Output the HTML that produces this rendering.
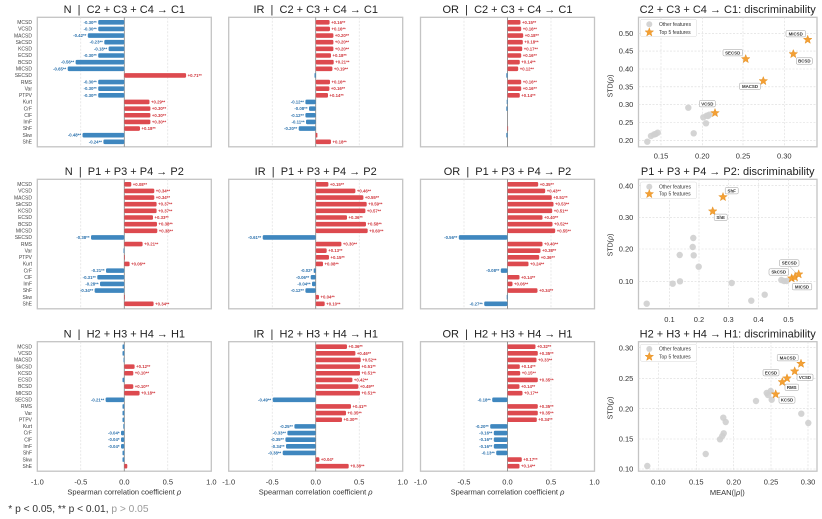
<!DOCTYPE html>
<html><head><meta charset="utf-8">
<style>
html,body{margin:0;padding:0;background:#fff;}
svg{display:block;font-family:"Liberation Sans",sans-serif;}
.r{fill:#dd4a4f}.b{fill:#3f87bf}
.tr{fill:#d0363c;font-size:4.3px;font-weight:bold}
.tb{fill:#2c72ad;font-size:4.3px;font-weight:bold;text-anchor:end}
.fr{fill:#fff;stroke:#c4c4c4;stroke-width:1.3}
.gd{stroke:#dadada;stroke-width:.6;stroke-dasharray:2 1.5}
.z{stroke:#8a8a8a;stroke-width:.9}
.fn{font-size:5px;fill:#444;text-anchor:end}
.ti{font-size:11px;fill:#222;text-anchor:middle}
.tk{font-size:7.5px;fill:#333;text-anchor:middle}
.tky{font-size:7.5px;fill:#333;text-anchor:end}
.gp{fill:#cfcfcf;opacity:.9}
.lb{fill:#fff;stroke:#9a9a9a;stroke-width:.5}
.lt{font-size:4.4px;font-weight:bold;fill:#333;text-anchor:middle}
.lg{font-size:5px;fill:#333}
.st{fill:#f4a034;stroke:#e08a1a;stroke-width:.4}
</style></head>
<body>
<svg width="822" height="519" viewBox="0 0 822 519" xmlns="http://www.w3.org/2000/svg">
<defs>
<path id="st" d="M0,-4.5 L1.117,-1.537 L4.28,-1.39 L1.807,0.587 L2.645,3.64 L0,1.9 L-2.645,3.64 L-1.807,0.587 L-4.28,-1.39 L-1.117,-1.537 Z"/>
</defs>
<rect width="822" height="519" fill="#fff"/>

<!-- Titles -->
<text class="ti" x="124.3" y="13">N&#160;&#160;|&#160;&#160;C2 + C3 + C4 → C1</text>
<text class="ti" x="315.7" y="13">IR&#160;&#160;|&#160;&#160;C2 + C3 + C4 → C1</text>
<text class="ti" x="507.5" y="13">OR&#160;&#160;|&#160;&#160;C2 + C3 + C4 → C1</text>
<text class="ti" x="727.7" y="13">C2 + C3 + C4 → C1: discriminability</text>
<text class="ti" x="124.3" y="175">N&#160;&#160;|&#160;&#160;P1 + P3 + P4 → P2</text>
<text class="ti" x="315.7" y="175">IR&#160;&#160;|&#160;&#160;P1 + P3 + P4 → P2</text>
<text class="ti" x="507.5" y="175">OR&#160;&#160;|&#160;&#160;P1 + P3 + P4 → P2</text>
<text class="ti" x="727.7" y="175">P1 + P3 + P4 → P2: discriminability</text>
<text class="ti" x="124.3" y="337.5">N&#160;&#160;|&#160;&#160;H2 + H3 + H4 → H1</text>
<text class="ti" x="315.7" y="337.5">IR&#160;&#160;|&#160;&#160;H2 + H3 + H4 → H1</text>
<text class="ti" x="507.5" y="337.5">OR&#160;&#160;|&#160;&#160;H2 + H3 + H4 → H1</text>
<text class="ti" x="727.7" y="337.5">H2 + H3 + H4 → H1: discriminability</text>

<!-- Feature names, 3 rows -->
<g transform="translate(32,22.3)">
<text class="fn" y="1.7">MCSD</text><text class="fn" y="8.34">VCSD</text><text class="fn" y="14.98">MACSD</text><text class="fn" y="21.62">SkCSD</text><text class="fn" y="28.26">KCSD</text><text class="fn" y="34.9">ECSD</text><text class="fn" y="41.54">BCSD</text><text class="fn" y="48.18">MICSD</text><text class="fn" y="54.82">SECSD</text><text class="fn" y="61.46">RMS</text><text class="fn" y="68.1">Var</text><text class="fn" y="74.74">PTPV</text><text class="fn" y="81.38">Kurt</text><text class="fn" y="88.02">CrF</text><text class="fn" y="94.66">ClF</text><text class="fn" y="101.3">ImF</text><text class="fn" y="107.94">ShF</text><text class="fn" y="114.58">Skw</text><text class="fn" y="121.22">ShE</text>
</g>
<g transform="translate(32,184.3)">
<text class="fn" y="1.7">MCSD</text><text class="fn" y="8.34">VCSD</text><text class="fn" y="14.98">MACSD</text><text class="fn" y="21.62">SkCSD</text><text class="fn" y="28.26">KCSD</text><text class="fn" y="34.9">ECSD</text><text class="fn" y="41.54">BCSD</text><text class="fn" y="48.18">MICSD</text><text class="fn" y="54.82">SECSD</text><text class="fn" y="61.46">RMS</text><text class="fn" y="68.1">Var</text><text class="fn" y="74.74">PTPV</text><text class="fn" y="81.38">Kurt</text><text class="fn" y="88.02">CrF</text><text class="fn" y="94.66">ClF</text><text class="fn" y="101.3">ImF</text><text class="fn" y="107.94">ShF</text><text class="fn" y="114.58">Skw</text><text class="fn" y="121.22">ShE</text>
</g>
<g transform="translate(32,346.7)">
<text class="fn" y="1.7">MCSD</text><text class="fn" y="8.34">VCSD</text><text class="fn" y="14.98">MACSD</text><text class="fn" y="21.62">SkCSD</text><text class="fn" y="28.26">KCSD</text><text class="fn" y="34.9">ECSD</text><text class="fn" y="41.54">BCSD</text><text class="fn" y="48.18">MICSD</text><text class="fn" y="54.82">SECSD</text><text class="fn" y="61.46">RMS</text><text class="fn" y="68.1">Var</text><text class="fn" y="74.74">PTPV</text><text class="fn" y="81.38">Kurt</text><text class="fn" y="88.02">CrF</text><text class="fn" y="94.66">ClF</text><text class="fn" y="101.3">ImF</text><text class="fn" y="107.94">ShF</text><text class="fn" y="114.58">Skw</text><text class="fn" y="121.22">ShE</text>
</g>

<!-- R1C1 -->
<g transform="translate(124.3,22.3)">
<rect class="fr" x="-87" y="-5" width="174" height="129.5"/>
<line class="gd" x1="-43.5" y1="-5" x2="-43.5" y2="124.5"/><line class="gd" x1="43.5" y1="-5" x2="43.5" y2="124.5"/>
<line class="z" x1="0" y1="-5" x2="0" y2="124.5"/>
<rect class="b" x="-26.1" y="-2.3" width="26.1" height="4.6" rx="1.2"/>
<rect class="b" x="-26.1" y="4.34" width="26.1" height="4.6" rx="1.2"/>
<rect class="b" x="-36.5" y="10.98" width="36.5" height="4.6" rx="1.2"/>
<rect class="b" x="-20" y="17.62" width="20" height="4.6" rx="1.2"/>
<rect class="b" x="-15.7" y="24.26" width="15.7" height="4.6" rx="1.2"/>
<rect class="b" x="-26.1" y="30.9" width="26.1" height="4.6" rx="1.2"/>
<rect class="b" x="-48.7" y="37.54" width="48.7" height="4.6" rx="1.2"/>
<rect class="b" x="-56.6" y="44.18" width="56.6" height="4.6" rx="1.2"/>
<rect class="r" x="0" y="50.82" width="61.8" height="4.6" rx="1.2"/>
<rect class="b" x="-26.1" y="57.46" width="26.1" height="4.6" rx="1.2"/>
<rect class="b" x="-26.1" y="64.1" width="26.1" height="4.6" rx="1.2"/>
<rect class="b" x="-26.1" y="70.74" width="26.1" height="4.6" rx="1.2"/>
<rect class="r" x="0" y="77.38" width="25.2" height="4.6" rx="1.2"/>
<rect class="r" x="0" y="84.02" width="26.1" height="4.6" rx="1.2"/>
<rect class="r" x="0" y="90.66" width="26.1" height="4.6" rx="1.2"/>
<rect class="r" x="0" y="97.3" width="26.1" height="4.6" rx="1.2"/>
<rect class="r" x="0" y="103.94" width="15.7" height="4.6" rx="1.2"/>
<rect class="b" x="-41.8" y="110.58" width="41.8" height="4.6" rx="1.2"/>
<rect class="b" x="-20.9" y="117.22" width="20.9" height="4.6" rx="1.2"/>
<text class="tb" x="-27.6" y="1.5">-0.30**</text>
<text class="tb" x="-27.6" y="8.14">-0.30**</text>
<text class="tb" x="-38" y="14.78">-0.42**</text>
<text class="tb" x="-21.5" y="21.42">-0.23**</text>
<text class="tb" x="-17.2" y="28.06">-0.18**</text>
<text class="tb" x="-27.6" y="34.7">-0.30**</text>
<text class="tb" x="-50.2" y="41.34">-0.56**</text>
<text class="tb" x="-58.1" y="47.98">-0.65**</text>
<text class="tr" x="63.3" y="54.62">+0.71**</text>
<text class="tb" x="-27.6" y="61.26">-0.30**</text>
<text class="tb" x="-27.6" y="67.9">-0.30**</text>
<text class="tb" x="-27.6" y="74.54">-0.30**</text>
<text class="tr" x="26.7" y="81.18">+0.29**</text>
<text class="tr" x="27.6" y="87.82">+0.30**</text>
<text class="tr" x="27.6" y="94.46">+0.30**</text>
<text class="tr" x="27.6" y="101.1">+0.30**</text>
<text class="tr" x="17.2" y="107.74">+0.18**</text>
<text class="tb" x="-43.3" y="114.38">-0.48**</text>
<text class="tb" x="-22.4" y="121.02">-0.24**</text>
</g>

<!-- R1C2 -->
<g transform="translate(315.7,22.3)">
<rect class="fr" x="-87" y="-5" width="174" height="129.5"/>
<line class="gd" x1="-43.5" y1="-5" x2="-43.5" y2="124.5"/><line class="gd" x1="43.5" y1="-5" x2="43.5" y2="124.5"/>
<line class="z" x1="0" y1="-5" x2="0" y2="124.5"/>
<rect class="r" x="0" y="-2.3" width="13.9" height="4.6" rx="1.2"/>
<rect class="r" x="0" y="4.34" width="14.3" height="4.6" rx="1.2"/>
<rect class="r" x="0" y="10.98" width="17.7" height="4.6" rx="1.2"/>
<rect class="r" x="0" y="17.62" width="17.7" height="4.6" rx="1.2"/>
<rect class="r" x="0" y="24.26" width="17.7" height="4.6" rx="1.2"/>
<rect class="r" x="0" y="30.9" width="15.3" height="4.6" rx="1.2"/>
<rect class="r" x="0" y="37.54" width="18" height="4.6" rx="1.2"/>
<rect class="r" x="0" y="44.18" width="16.7" height="4.6" rx="1.2"/>
<rect class="b" x="-1.2" y="50.82" width="1.2" height="4.6" rx=".5"/>
<rect class="r" x="0" y="57.46" width="14.3" height="4.6" rx="1.2"/>
<rect class="r" x="0" y="64.1" width="13.7" height="4.6" rx="1.2"/>
<rect class="r" x="0" y="70.74" width="12.3" height="4.6" rx="1.2"/>
<rect class="b" x="-10.3" y="77.38" width="10.3" height="4.6" rx="1.2"/>
<rect class="b" x="-6.7" y="84.02" width="6.7" height="4.6" rx="1.2"/>
<rect class="b" x="-10.3" y="90.66" width="10.3" height="4.6" rx="1.2"/>
<rect class="b" x="-9.7" y="97.3" width="9.7" height="4.6" rx="1.2"/>
<rect class="b" x="-17" y="103.94" width="17" height="4.6" rx="1.2"/>
<rect class="r" x="0" y="110.58" width="1.7" height="4.6" rx=".6"/>
<rect class="r" x="0" y="117.22" width="15.3" height="4.6" rx="1.2"/>
<text class="tr" x="15.4" y="1.5">+0.16**</text>
<text class="tr" x="15.8" y="8.14">+0.16**</text>
<text class="tr" x="19.2" y="14.78">+0.20**</text>
<text class="tr" x="19.2" y="21.42">+0.20**</text>
<text class="tr" x="19.2" y="28.06">+0.20**</text>
<text class="tr" x="16.8" y="34.7">+0.18**</text>
<text class="tr" x="19.5" y="41.34">+0.21**</text>
<text class="tr" x="18.2" y="47.98">+0.19**</text>
<text class="tr" x="15.8" y="61.26">+0.16**</text>
<text class="tr" x="15.2" y="67.9">+0.16**</text>
<text class="tr" x="13.8" y="74.54">+0.14**</text>
<text class="tb" x="-11.8" y="81.18">-0.12**</text>
<text class="tb" x="-8.2" y="87.82">-0.08**</text>
<text class="tb" x="-11.8" y="94.46">-0.12**</text>
<text class="tb" x="-11.2" y="101.1">-0.11**</text>
<text class="tb" x="-18.5" y="107.74">-0.20**</text>
<text class="tr" x="16.8" y="121.02">+0.18**</text>
</g>

<!-- R1C3 -->
<g transform="translate(507.5,22.3)">
<rect class="fr" x="-87" y="-5" width="174" height="129.5"/>
<line class="gd" x1="-43.5" y1="-5" x2="-43.5" y2="124.5"/><line class="gd" x1="43.5" y1="-5" x2="43.5" y2="124.5"/>
<line class="z" x1="0" y1="-5" x2="0" y2="124.5"/>
<rect class="r" x="0" y="-2.3" width="13" height="4.6" rx="1.2"/>
<rect class="r" x="0" y="4.34" width="13.7" height="4.6" rx="1.2"/>
<rect class="r" x="0" y="10.98" width="15.7" height="4.6" rx="1.2"/>
<rect class="r" x="0" y="17.62" width="15.3" height="4.6" rx="1.2"/>
<rect class="r" x="0" y="24.26" width="14.7" height="4.6" rx="1.2"/>
<rect class="r" x="0" y="30.9" width="13.7" height="4.6" rx="1.2"/>
<rect class="r" x="0" y="37.54" width="12.3" height="4.6" rx="1.2"/>
<rect class="r" x="0" y="44.18" width="10.7" height="4.6" rx="1.2"/>
<rect class="b" x="-1.2" y="50.82" width="1.2" height="4.6" rx=".5"/>
<rect class="r" x="0" y="57.46" width="13.7" height="4.6" rx="1.2"/>
<rect class="r" x="0" y="64.1" width="13.7" height="4.6" rx="1.2"/>
<rect class="r" x="0" y="70.74" width="12.3" height="4.6" rx="1.2"/>
<rect class="b" x="-0.8" y="77.38" width="0.8" height="4.6" rx=".4"/>
<rect class="b" x="-1.2" y="84.02" width="1.2" height="4.6" rx=".5"/>
<rect class="r" x="0" y="103.94" width="0.6" height="4.6"/>
<rect class="b" x="-1.2" y="110.58" width="1.2" height="4.6" rx=".5"/>
<text class="tr" x="14.5" y="1.5">+0.15**</text>
<text class="tr" x="15.2" y="8.14">+0.16**</text>
<text class="tr" x="17.2" y="14.78">+0.18**</text>
<text class="tr" x="16.8" y="21.42">+0.18**</text>
<text class="tr" x="16.2" y="28.06">+0.17**</text>
<text class="tr" x="15.2" y="34.7">+0.16**</text>
<text class="tr" x="13.8" y="41.34">+0.14**</text>
<text class="tr" x="12.2" y="47.98">+0.12**</text>
<text class="tr" x="15.2" y="61.26">+0.16**</text>
<text class="tr" x="15.2" y="67.9">+0.16**</text>
<text class="tr" x="13.8" y="74.54">+0.14**</text>
</g>

<!-- R2C1 -->
<g transform="translate(124.3,184.3)">
<rect class="fr" x="-87" y="-5" width="174" height="129.5"/>
<line class="gd" x1="-43.5" y1="-5" x2="-43.5" y2="124.5"/><line class="gd" x1="43.5" y1="-5" x2="43.5" y2="124.5"/>
<line class="z" x1="0" y1="-5" x2="0" y2="124.5"/>
<rect class="r" x="0" y="-2.3" width="7" height="4.6" rx="1.2"/>
<rect class="r" x="0" y="4.34" width="30" height="4.6" rx="1.2"/>
<rect class="r" x="0" y="10.98" width="30" height="4.6" rx="1.2"/>
<rect class="r" x="0" y="17.62" width="32.3" height="4.6" rx="1.2"/>
<rect class="r" x="0" y="24.26" width="32.3" height="4.6" rx="1.2"/>
<rect class="r" x="0" y="30.9" width="28.7" height="4.6" rx="1.2"/>
<rect class="r" x="0" y="37.54" width="32.7" height="4.6" rx="1.2"/>
<rect class="r" x="0" y="44.18" width="33" height="4.6" rx="1.2"/>
<rect class="b" x="-33.3" y="50.82" width="33.3" height="4.6" rx="1.2"/>
<rect class="r" x="0" y="57.46" width="18.3" height="4.6" rx="1.2"/>
<rect class="b" x="-0.8" y="64.1" width="0.8" height="4.6"/>
<rect class="r" x="0" y="70.74" width="0.6" height="4.6"/>
<rect class="r" x="0" y="77.38" width="5.3" height="4.6" rx="1.2"/>
<rect class="b" x="-18.3" y="84.02" width="18.3" height="4.6" rx="1.2"/>
<rect class="b" x="-27" y="90.66" width="27" height="4.6" rx="1.2"/>
<rect class="b" x="-24.3" y="97.3" width="24.3" height="4.6" rx="1.2"/>
<rect class="b" x="-29.7" y="103.94" width="29.7" height="4.6" rx="1.2"/>
<rect class="r" x="0" y="110.58" width="0.6" height="4.6"/>
<rect class="r" x="0" y="117.22" width="29.3" height="4.6" rx="1.2"/>
<text class="tr" x="8.5" y="1.5">+0.08**</text>
<text class="tr" x="31.5" y="8.14">+0.34**</text>
<text class="tr" x="31.5" y="14.78">+0.34**</text>
<text class="tr" x="33.8" y="21.42">+0.37**</text>
<text class="tr" x="33.8" y="28.06">+0.37**</text>
<text class="tr" x="30.2" y="34.7">+0.33**</text>
<text class="tr" x="34.2" y="41.34">+0.38**</text>
<text class="tr" x="34.5" y="47.98">+0.38**</text>
<text class="tb" x="-34.8" y="54.62">-0.38**</text>
<text class="tr" x="19.8" y="61.26">+0.21**</text>
<text class="tr" x="6.8" y="81.18">+0.06**</text>
<text class="tb" x="-19.8" y="87.82">-0.21**</text>
<text class="tb" x="-28.5" y="94.46">-0.31**</text>
<text class="tb" x="-25.8" y="101.1">-0.28**</text>
<text class="tb" x="-31.2" y="107.74">-0.34**</text>
<text class="tr" x="30.8" y="121.02">+0.34**</text>
</g>

<!-- R2C2 -->
<g transform="translate(315.7,184.3)">
<rect class="fr" x="-87" y="-5" width="174" height="129.5"/>
<line class="gd" x1="-43.5" y1="-5" x2="-43.5" y2="124.5"/><line class="gd" x1="43.5" y1="-5" x2="43.5" y2="124.5"/>
<line class="z" x1="0" y1="-5" x2="0" y2="124.5"/>
<rect class="r" x="0" y="-2.3" width="12.7" height="4.6" rx="1.2"/>
<rect class="r" x="0" y="4.34" width="39.7" height="4.6" rx="1.2"/>
<rect class="r" x="0" y="10.98" width="47.7" height="4.6" rx="1.2"/>
<rect class="r" x="0" y="17.62" width="51" height="4.6" rx="1.2"/>
<rect class="r" x="0" y="24.26" width="49.7" height="4.6" rx="1.2"/>
<rect class="r" x="0" y="30.9" width="31.3" height="4.6" rx="1.2"/>
<rect class="r" x="0" y="37.54" width="50.3" height="4.6" rx="1.2"/>
<rect class="r" x="0" y="44.18" width="52" height="4.6" rx="1.2"/>
<rect class="b" x="-53" y="50.82" width="53" height="4.6" rx="1.2"/>
<rect class="r" x="0" y="57.46" width="25.7" height="4.6" rx="1.2"/>
<rect class="r" x="0" y="64.1" width="11" height="4.6" rx="1.2"/>
<rect class="r" x="0" y="70.74" width="13.3" height="4.6" rx="1.2"/>
<rect class="r" x="0" y="77.38" width="7.3" height="4.6" rx="1.2"/>
<rect class="b" x="-2" y="84.02" width="2" height="4.6" rx=".8"/>
<rect class="b" x="-5" y="90.66" width="5" height="4.6" rx="1.2"/>
<rect class="b" x="-3.7" y="97.3" width="3.7" height="4.6" rx="1.2"/>
<rect class="b" x="-10.3" y="103.94" width="10.3" height="4.6" rx="1.2"/>
<rect class="r" x="0" y="110.58" width="3.3" height="4.6" rx="1.2"/>
<rect class="r" x="0" y="117.22" width="9" height="4.6" rx="1.2"/>
<text class="tr" x="14.2" y="1.5">+0.15**</text>
<text class="tr" x="41.2" y="8.14">+0.46**</text>
<text class="tr" x="49.2" y="14.78">+0.55**</text>
<text class="tr" x="52.5" y="21.42">+0.59**</text>
<text class="tr" x="51.2" y="28.06">+0.57**</text>
<text class="tr" x="32.8" y="34.7">+0.36**</text>
<text class="tr" x="51.8" y="41.34">+0.58**</text>
<text class="tr" x="53.5" y="47.98">+0.60**</text>
<text class="tb" x="-54.5" y="54.62">-0.61**</text>
<text class="tr" x="27.2" y="61.26">+0.30**</text>
<text class="tr" x="12.5" y="67.9">+0.13**</text>
<text class="tr" x="14.8" y="74.54">+0.15**</text>
<text class="tr" x="8.8" y="81.18">+0.08**</text>
<text class="tb" x="-3.5" y="87.82">-0.02*</text>
<text class="tb" x="-6.5" y="94.46">-0.06**</text>
<text class="tb" x="-5.2" y="101.1">-0.04**</text>
<text class="tb" x="-11.8" y="107.74">-0.12**</text>
<text class="tr" x="4.8" y="114.38">+0.04**</text>
<text class="tr" x="10.5" y="121.02">+0.10**</text>
</g>

<!-- R2C3 -->
<g transform="translate(507.5,184.3)">
<rect class="fr" x="-87" y="-5" width="174" height="129.5"/>
<line class="gd" x1="-43.5" y1="-5" x2="-43.5" y2="124.5"/><line class="gd" x1="43.5" y1="-5" x2="43.5" y2="124.5"/>
<line class="z" x1="0" y1="-5" x2="0" y2="124.5"/>
<rect class="r" x="0" y="-2.3" width="30.7" height="4.6" rx="1.2"/>
<rect class="r" x="0" y="4.34" width="37.7" height="4.6" rx="1.2"/>
<rect class="r" x="0" y="10.98" width="44.3" height="4.6" rx="1.2"/>
<rect class="r" x="0" y="17.62" width="46" height="4.6" rx="1.2"/>
<rect class="r" x="0" y="24.26" width="44.7" height="4.6" rx="1.2"/>
<rect class="r" x="0" y="30.9" width="35" height="4.6" rx="1.2"/>
<rect class="r" x="0" y="37.54" width="45" height="4.6" rx="1.2"/>
<rect class="r" x="0" y="44.18" width="47.7" height="4.6" rx="1.2"/>
<rect class="b" x="-48.7" y="50.82" width="48.7" height="4.6" rx="1.2"/>
<rect class="r" x="0" y="57.46" width="35" height="4.6" rx="1.2"/>
<rect class="r" x="0" y="64.1" width="33" height="4.6" rx="1.2"/>
<rect class="r" x="0" y="70.74" width="31.7" height="4.6" rx="1.2"/>
<rect class="r" x="0" y="77.38" width="21" height="4.6" rx="1.2"/>
<rect class="b" x="-6.7" y="84.02" width="6.7" height="4.6" rx="1.2"/>
<rect class="r" x="0" y="90.66" width="12" height="4.6" rx="1.2"/>
<rect class="r" x="0" y="97.3" width="5" height="4.6" rx="1.2"/>
<rect class="r" x="0" y="103.94" width="30" height="4.6" rx="1.2"/>
<rect class="b" x="-0.8" y="110.58" width="0.8" height="4.6"/>
<rect class="b" x="-23.3" y="117.22" width="23.3" height="4.6" rx="1.2"/>
<text class="tr" x="32.2" y="1.5">+0.35**</text>
<text class="tr" x="39.2" y="8.14">+0.43**</text>
<text class="tr" x="45.8" y="14.78">+0.51**</text>
<text class="tr" x="47.5" y="21.42">+0.53**</text>
<text class="tr" x="46.2" y="28.06">+0.51**</text>
<text class="tr" x="36.5" y="34.7">+0.40**</text>
<text class="tr" x="46.5" y="41.34">+0.52**</text>
<text class="tr" x="49.2" y="47.98">+0.55**</text>
<text class="tb" x="-50.2" y="54.62">-0.56**</text>
<text class="tr" x="36.5" y="61.26">+0.40**</text>
<text class="tr" x="34.5" y="67.9">+0.38**</text>
<text class="tr" x="33.2" y="74.54">+0.36**</text>
<text class="tr" x="22.5" y="81.18">+0.24**</text>
<text class="tb" x="-8.2" y="87.82">-0.08**</text>
<text class="tr" x="13.5" y="94.46">+0.14**</text>
<text class="tr" x="6.5" y="101.1">+0.06**</text>
<text class="tr" x="31.5" y="107.74">+0.34**</text>
<text class="tb" x="-24.8" y="121.02">-0.27**</text>
</g>

<!-- R3C1 -->
<g transform="translate(124.3,346.7)">
<rect class="fr" x="-87" y="-5" width="174" height="129.5"/>
<line class="gd" x1="-43.5" y1="-5" x2="-43.5" y2="124.5"/><line class="gd" x1="43.5" y1="-5" x2="43.5" y2="124.5"/>
<line class="z" x1="0" y1="-5" x2="0" y2="124.5"/>
<rect class="b" x="-1.8" y="-2.3" width="1.8" height="4.6" rx=".8"/>
<rect class="b" x="-1.8" y="4.34" width="1.8" height="4.6" rx=".8"/>
<rect class="b" x="-0.8" y="10.98" width="0.8" height="4.6"/>
<rect class="r" x="0" y="17.62" width="10.3" height="4.6" rx="1.2"/>
<rect class="r" x="0" y="24.26" width="9" height="4.6" rx="1.2"/>
<rect class="b" x="-1.8" y="30.9" width="1.8" height="4.6" rx=".8"/>
<rect class="r" x="0" y="37.54" width="9" height="4.6" rx="1.2"/>
<rect class="r" x="0" y="44.18" width="15.3" height="4.6" rx="1.2"/>
<rect class="b" x="-18.7" y="50.82" width="18.7" height="4.6" rx="1.2"/>
<rect class="b" x="-1.8" y="57.46" width="1.8" height="4.6" rx=".8"/>
<rect class="b" x="-1.8" y="64.1" width="1.8" height="4.6" rx=".8"/>
<rect class="b" x="-1.8" y="70.74" width="1.8" height="4.6" rx=".8"/>
<rect class="b" x="-1" y="77.38" width="1" height="4.6"/>
<rect class="b" x="-3.3" y="84.02" width="3.3" height="4.6" rx="1.2"/>
<rect class="b" x="-3.3" y="90.66" width="3.3" height="4.6" rx="1.2"/>
<rect class="b" x="-3.3" y="97.3" width="3.3" height="4.6" rx="1.2"/>
<rect class="b" x="-1.8" y="103.94" width="1.8" height="4.6" rx=".8"/>
<rect class="b" x="-1.8" y="110.58" width="1.8" height="4.6" rx=".8"/>
<rect class="r" x="0" y="117.22" width="3" height="4.6" rx="1.2"/>
<text class="tr" x="11.8" y="21.42">+0.12**</text>
<text class="tr" x="10.5" y="28.06">+0.10**</text>
<text class="tr" x="10.5" y="41.34">+0.10**</text>
<text class="tr" x="16.8" y="47.98">+0.18**</text>
<text class="tb" x="-20.2" y="54.62">-0.21**</text>
<text class="tb" x="-4.8" y="87.82">-0.04*</text>
<text class="tb" x="-4.8" y="94.46">-0.04*</text>
<text class="tb" x="-4.8" y="101.1">-0.04*</text>
</g>

<!-- R3C2 -->
<g transform="translate(315.7,346.7)">
<rect class="fr" x="-87" y="-5" width="174" height="129.5"/>
<line class="gd" x1="-43.5" y1="-5" x2="-43.5" y2="124.5"/><line class="gd" x1="43.5" y1="-5" x2="43.5" y2="124.5"/>
<line class="z" x1="0" y1="-5" x2="0" y2="124.5"/>
<rect class="r" x="0" y="-2.3" width="31.3" height="4.6" rx="1.2"/>
<rect class="r" x="0" y="4.34" width="39.7" height="4.6" rx="1.2"/>
<rect class="r" x="0" y="10.98" width="45" height="4.6" rx="1.2"/>
<rect class="r" x="0" y="17.62" width="44.3" height="4.6" rx="1.2"/>
<rect class="r" x="0" y="24.26" width="44.3" height="4.6" rx="1.2"/>
<rect class="r" x="0" y="30.9" width="36.7" height="4.6" rx="1.2"/>
<rect class="r" x="0" y="37.54" width="42.7" height="4.6" rx="1.2"/>
<rect class="r" x="0" y="44.18" width="44.3" height="4.6" rx="1.2"/>
<rect class="b" x="-43" y="50.82" width="43" height="4.6" rx="1.2"/>
<rect class="r" x="0" y="57.46" width="35.3" height="4.6" rx="1.2"/>
<rect class="r" x="0" y="64.1" width="30.3" height="4.6" rx="1.2"/>
<rect class="r" x="0" y="70.74" width="26.3" height="4.6" rx="1.2"/>
<rect class="b" x="-21.3" y="77.38" width="21.3" height="4.6" rx="1.2"/>
<rect class="b" x="-28.3" y="84.02" width="28.3" height="4.6" rx="1.2"/>
<rect class="b" x="-30.3" y="90.66" width="30.3" height="4.6" rx="1.2"/>
<rect class="b" x="-29.7" y="97.3" width="29.7" height="4.6" rx="1.2"/>
<rect class="b" x="-33" y="103.94" width="33" height="4.6" rx="1.2"/>
<rect class="r" x="0" y="110.58" width="3.7" height="4.6" rx="1.2"/>
<rect class="r" x="0" y="117.22" width="33" height="4.6" rx="1.2"/>
<text class="tr" x="32.8" y="1.5">+0.36**</text>
<text class="tr" x="41.2" y="8.14">+0.46**</text>
<text class="tr" x="46.5" y="14.78">+0.52**</text>
<text class="tr" x="45.8" y="21.42">+0.51**</text>
<text class="tr" x="45.8" y="28.06">+0.51**</text>
<text class="tr" x="38.2" y="34.7">+0.42**</text>
<text class="tr" x="44.2" y="41.34">+0.49**</text>
<text class="tr" x="45.8" y="47.98">+0.51**</text>
<text class="tb" x="-44.5" y="54.62">-0.49**</text>
<text class="tr" x="36.8" y="61.26">+0.41**</text>
<text class="tr" x="31.8" y="67.9">+0.35**</text>
<text class="tr" x="27.8" y="74.54">+0.30**</text>
<text class="tb" x="-22.8" y="81.18">-0.25**</text>
<text class="tb" x="-29.8" y="87.82">-0.33**</text>
<text class="tb" x="-31.8" y="94.46">-0.35**</text>
<text class="tb" x="-31.2" y="101.1">-0.34**</text>
<text class="tb" x="-34.5" y="107.74">-0.38**</text>
<text class="tr" x="5.2" y="114.38">+0.04*</text>
<text class="tr" x="34.5" y="121.02">+0.38**</text>
</g>

<!-- R3C3 -->
<g transform="translate(507.5,346.7)">
<rect class="fr" x="-87" y="-5" width="174" height="129.5"/>
<line class="gd" x1="-43.5" y1="-5" x2="-43.5" y2="124.5"/><line class="gd" x1="43.5" y1="-5" x2="43.5" y2="124.5"/>
<line class="z" x1="0" y1="-5" x2="0" y2="124.5"/>
<rect class="r" x="0" y="-2.3" width="28" height="4.6" rx="1.2"/>
<rect class="r" x="0" y="4.34" width="30.3" height="4.6" rx="1.2"/>
<rect class="r" x="0" y="10.98" width="29" height="4.6" rx="1.2"/>
<rect class="r" x="0" y="17.62" width="12.3" height="4.6" rx="1.2"/>
<rect class="r" x="0" y="24.26" width="12.7" height="4.6" rx="1.2"/>
<rect class="r" x="0" y="30.9" width="30.3" height="4.6" rx="1.2"/>
<rect class="r" x="0" y="37.54" width="12" height="4.6" rx="1.2"/>
<rect class="r" x="0" y="44.18" width="15" height="4.6" rx="1.2"/>
<rect class="b" x="-15.3" y="50.82" width="15.3" height="4.6" rx="1.2"/>
<rect class="r" x="0" y="57.46" width="30.3" height="4.6" rx="1.2"/>
<rect class="r" x="0" y="64.1" width="30.3" height="4.6" rx="1.2"/>
<rect class="r" x="0" y="70.74" width="29.3" height="4.6" rx="1.2"/>
<rect class="b" x="-17.3" y="77.38" width="17.3" height="4.6" rx="1.2"/>
<rect class="b" x="-13.7" y="84.02" width="13.7" height="4.6" rx="1.2"/>
<rect class="b" x="-13.7" y="90.66" width="13.7" height="4.6" rx="1.2"/>
<rect class="b" x="-13.7" y="97.3" width="13.7" height="4.6" rx="1.2"/>
<rect class="b" x="-11.3" y="103.94" width="11.3" height="4.6" rx="1.2"/>
<rect class="r" x="0" y="110.58" width="14.3" height="4.6" rx="1.2"/>
<rect class="r" x="0" y="117.22" width="12" height="4.6" rx="1.2"/>
<text class="tr" x="29.5" y="1.5">+0.32**</text>
<text class="tr" x="31.8" y="8.14">+0.35**</text>
<text class="tr" x="30.5" y="14.78">+0.33**</text>
<text class="tr" x="13.8" y="21.42">+0.14**</text>
<text class="tr" x="14.2" y="28.06">+0.15**</text>
<text class="tr" x="31.8" y="34.7">+0.35**</text>
<text class="tr" x="13.5" y="41.34">+0.14**</text>
<text class="tr" x="16.5" y="47.98">+0.17**</text>
<text class="tb" x="-16.8" y="54.62">-0.18**</text>
<text class="tr" x="31.8" y="61.26">+0.35**</text>
<text class="tr" x="31.8" y="67.9">+0.35**</text>
<text class="tr" x="30.8" y="74.54">+0.34**</text>
<text class="tb" x="-18.8" y="81.18">-0.20**</text>
<text class="tb" x="-15.2" y="87.82">-0.16**</text>
<text class="tb" x="-15.2" y="94.46">-0.16**</text>
<text class="tb" x="-15.2" y="101.1">-0.16**</text>
<text class="tb" x="-12.8" y="107.74">-0.13**</text>
<text class="tr" x="15.8" y="114.38">+0.17**</text>
<text class="tr" x="13.5" y="121.02">+0.14**</text>
</g>

<!-- Bottom x axes for bar charts -->
<g>
<text class="tk" x="37.3" y="484.5">-1.0</text><text class="tk" x="80.8" y="484.5">-0.5</text><text class="tk" x="124.3" y="484.5">0.0</text><text class="tk" x="167.8" y="484.5">0.5</text><text class="tk" x="211.3" y="484.5">1.0</text>
<text class="tk" x="228.7" y="484.5">-1.0</text><text class="tk" x="272.2" y="484.5">-0.5</text><text class="tk" x="315.7" y="484.5">0.0</text><text class="tk" x="359.2" y="484.5">0.5</text><text class="tk" x="402.7" y="484.5">1.0</text>
<text class="tk" x="420.5" y="484.5">-1.0</text><text class="tk" x="464" y="484.5">-0.5</text><text class="tk" x="507.5" y="484.5">0.0</text><text class="tk" x="551" y="484.5">0.5</text><text class="tk" x="594.5" y="484.5">1.0</text>
<text class="tk" x="124.3" y="494.5">Spearman correlation coefficient <tspan font-style="italic">ρ</tspan></text>
<text class="tk" x="315.7" y="494.5">Spearman correlation coefficient <tspan font-style="italic">ρ</tspan></text>
<text class="tk" x="507.5" y="494.5">Spearman correlation coefficient <tspan font-style="italic">ρ</tspan></text>
</g>

<!-- Footnote -->
<text x="8.3" y="512" style="font-size:10.2px;fill:#333">* p &lt; 0.05, ** p &lt; 0.01, <tspan fill="#9a9a9a">p &gt; 0.05</tspan></text>

<!-- Scatter 1 -->
<g>
<rect class="fr" x="638.5" y="17.3" width="178.5" height="129.5"/>
<g class="gd">
<line x1="638.5" y1="33.3" x2="817" y2="33.3"/><line x1="638.5" y1="51.1" x2="817" y2="51.1"/><line x1="638.5" y1="69" x2="817" y2="69"/><line x1="638.5" y1="86.8" x2="817" y2="86.8"/><line x1="638.5" y1="104.6" x2="817" y2="104.6"/><line x1="638.5" y1="122.5" x2="817" y2="122.5"/><line x1="638.5" y1="140.3" x2="817" y2="140.3"/>
<line x1="661" y1="17.3" x2="661" y2="146.8"/><line x1="702.3" y1="17.3" x2="702.3" y2="146.8"/><line x1="743" y1="17.3" x2="743" y2="146.8"/><line x1="784.3" y1="17.3" x2="784.3" y2="146.8"/>
</g>
<text class="tky" x="633.3" y="35.9">0.50</text><text class="tky" x="633.3" y="53.7">0.45</text><text class="tky" x="633.3" y="71.6">0.40</text><text class="tky" x="633.3" y="89.4">0.35</text><text class="tky" x="633.3" y="107.2">0.30</text><text class="tky" x="633.3" y="125.1">0.25</text><text class="tky" x="633.3" y="142.9">0.20</text>
<text class="tk" x="661" y="158.3">0.15</text><text class="tk" x="702.3" y="158.3">0.20</text><text class="tk" x="743" y="158.3">0.25</text><text class="tk" x="784.3" y="158.3">0.30</text>
<text transform="translate(612.5,86) rotate(-90)" style="font-size:7px;fill:#333;text-anchor:middle">STD(<tspan font-style="italic">ρ</tspan>)</text>
<circle class="gp" cx="647.3" cy="141.7" r="3.2"/><circle class="gp" cx="651" cy="136" r="3.2"/><circle class="gp" cx="655.7" cy="134" r="3.2"/><circle class="gp" cx="657.7" cy="132.7" r="3.2"/><circle class="gp" cx="654" cy="134.5" r="3.2"/><circle class="gp" cx="688.3" cy="107.7" r="3.2"/><circle class="gp" cx="693.7" cy="133.3" r="3.2"/><circle class="gp" cx="703.3" cy="117.3" r="3.2"/><circle class="gp" cx="706.7" cy="115.7" r="3.2"/><circle class="gp" cx="709.3" cy="114.7" r="3.2"/><circle class="gp" cx="706" cy="123.3" r="3.2"/><circle class="gp" cx="708" cy="116" r="3.2"/>
<use href="#st" class="st" x="715" y="113"/><use href="#st" class="st" x="763.3" y="81"/><use href="#st" class="st" x="745.7" y="59"/><use href="#st" class="st" x="793.3" y="54"/><use href="#st" class="st" x="807.7" y="39.7"/>
<rect class="lb" x="699.3" y="100.5" width="16" height="6.4" rx="1.2"/><text class="lt" x="707.3" y="105.3">VCSD</text>
<rect class="lb" x="739.5" y="83.1" width="21" height="6.4" rx="1.2"/><text class="lt" x="750" y="87.9">MACSD</text>
<rect class="lb" x="723" y="49.5" width="19.5" height="6.4" rx="1.2"/><text class="lt" x="732.7" y="54.3">SECSD</text>
<rect class="lb" x="786" y="30.5" width="19.5" height="6.4" rx="1.2"/><text class="lt" x="795.7" y="35.3">MICSD</text>
<rect class="lb" x="796.3" y="57.8" width="16" height="6.4" rx="1.2"/><text class="lt" x="804.3" y="62.6">BCSD</text>
<rect x="640.5" y="19.5" width="56" height="17" rx="1.5" fill="#fff" stroke="#d8d8d8" stroke-width=".5"/>
<circle class="gp" cx="649.3" cy="24.3" r="3"/><use href="#st" class="st" x="649.3" y="32.3" transform="translate(0,0)"/>
<text class="lg" x="659" y="26">Other features</text><text class="lg" x="659" y="34">Top 5 features</text>
</g>

<!-- Scatter 2 -->
<g>
<rect class="fr" x="638.5" y="179.3" width="178.5" height="129.5"/>
<g class="gd">
<line x1="638.5" y1="185.7" x2="817" y2="185.7"/><line x1="638.5" y1="217.3" x2="817" y2="217.3"/><line x1="638.5" y1="249" x2="817" y2="249"/><line x1="638.5" y1="281.3" x2="817" y2="281.3"/>
<line x1="669.5" y1="179.3" x2="669.5" y2="308.8"/><line x1="699" y1="179.3" x2="699" y2="308.8"/><line x1="728.5" y1="179.3" x2="728.5" y2="308.8"/><line x1="758.5" y1="179.3" x2="758.5" y2="308.8"/><line x1="788.5" y1="179.3" x2="788.5" y2="308.8"/>
</g>
<text class="tky" x="633.3" y="188.3">0.40</text><text class="tky" x="633.3" y="219.9">0.30</text><text class="tky" x="633.3" y="251.6">0.20</text><text class="tky" x="633.3" y="283.9">0.10</text>
<text class="tk" x="669.5" y="322">0.1</text><text class="tk" x="699" y="322">0.2</text><text class="tk" x="728.5" y="322">0.3</text><text class="tk" x="758.5" y="322">0.4</text><text class="tk" x="788.5" y="322">0.5</text>
<text transform="translate(612.5,245) rotate(-90)" style="font-size:7px;fill:#333;text-anchor:middle">STD(<tspan font-style="italic">ρ</tspan>)</text>
<circle class="gp" cx="646.7" cy="303.7" r="3.2"/><circle class="gp" cx="672.7" cy="283.7" r="3.2"/><circle class="gp" cx="680" cy="281.3" r="3.2"/><circle class="gp" cx="679.7" cy="255" r="3.2"/><circle class="gp" cx="693.3" cy="238" r="3.2"/><circle class="gp" cx="692.7" cy="247" r="3.2"/><circle class="gp" cx="693.7" cy="255.3" r="3.2"/><circle class="gp" cx="698.7" cy="266.7" r="3.2"/><circle class="gp" cx="731.7" cy="283" r="3.2"/><circle class="gp" cx="751.3" cy="300.7" r="3.2"/><circle class="gp" cx="764.7" cy="294.7" r="3.2"/><circle class="gp" cx="781.3" cy="280" r="3.2"/><circle class="gp" cx="786.7" cy="281" r="3.2"/><circle class="gp" cx="784" cy="281" r="3.2"/>
<line x1="789.3" y1="266" x2="797" y2="274" stroke="#999" stroke-width=".4"/>
<use href="#st" class="st" x="723" y="197"/><use href="#st" class="st" x="712.7" y="211.3"/><use href="#st" class="st" x="791.7" y="278.3"/><use href="#st" class="st" x="795" y="277.3"/><use href="#st" class="st" x="798.7" y="274.3"/>
<rect class="lb" x="725.2" y="187.5" width="13" height="6.4" rx="1.2"/><text class="lt" x="731.7" y="192.3">ShF</text>
<rect class="lb" x="714.2" y="214.1" width="13" height="6.4" rx="1.2"/><text class="lt" x="720.7" y="218.9">ShE</text>
<rect class="lb" x="779.5" y="259.8" width="19.5" height="6.4" rx="1.2"/><text class="lt" x="789.3" y="264.6">SECSD</text>
<rect class="lb" x="769" y="268.8" width="19.5" height="6.4" rx="1.2"/><text class="lt" x="778.7" y="273.6">SkCSD</text>
<rect class="lb" x="792.3" y="283.5" width="19.5" height="6.4" rx="1.2"/><text class="lt" x="802" y="288.3">MICSD</text>
<rect x="640.5" y="182" width="56" height="16.5" rx="1.5" fill="#fff" stroke="#d8d8d8" stroke-width=".5"/>
<circle class="gp" cx="649.3" cy="186.7" r="3"/><use href="#st" class="st" x="649.3" y="194"/>
<text class="lg" x="659" y="188.4">Other features</text><text class="lg" x="659" y="195.7">Top 5 features</text>
</g>

<!-- Scatter 3 -->
<g>
<rect class="fr" x="638.5" y="341.7" width="178.5" height="129.5"/>
<g class="gd">
<line x1="638.5" y1="347.7" x2="817" y2="347.7"/><line x1="638.5" y1="378.3" x2="817" y2="378.3"/><line x1="638.5" y1="408.7" x2="817" y2="408.7"/><line x1="638.5" y1="439" x2="817" y2="439"/><line x1="638.5" y1="469" x2="817" y2="469"/>
<line x1="658.3" y1="341.7" x2="658.3" y2="471.2"/><line x1="696.3" y1="341.7" x2="696.3" y2="471.2"/><line x1="733.7" y1="341.7" x2="733.7" y2="471.2"/><line x1="771" y1="341.7" x2="771" y2="471.2"/><line x1="808" y1="341.7" x2="808" y2="471.2"/>
</g>
<text class="tky" x="633.3" y="350.3">0.30</text><text class="tky" x="633.3" y="380.9">0.25</text><text class="tky" x="633.3" y="411.3">0.20</text><text class="tky" x="633.3" y="441.6">0.15</text><text class="tky" x="633.3" y="471.6">0.10</text>
<text class="tk" x="658.3" y="484.5">0.10</text><text class="tk" x="696.3" y="484.5">0.15</text><text class="tk" x="733.7" y="484.5">0.20</text><text class="tk" x="771" y="484.5">0.25</text><text class="tk" x="808" y="484.5">0.30</text>
<text class="tk" x="727.3" y="495">MEAN(|<tspan font-style="italic">ρ</tspan>|)</text>
<text transform="translate(612.5,408) rotate(-90)" style="font-size:7px;fill:#333;text-anchor:middle">STD(<tspan font-style="italic">ρ</tspan>)</text>
<circle class="gp" cx="647.3" cy="466" r="3.2"/><circle class="gp" cx="705.7" cy="454" r="3.2"/><circle class="gp" cx="720" cy="439.3" r="3.2"/><circle class="gp" cx="722.3" cy="436" r="3.2"/><circle class="gp" cx="723.7" cy="433.3" r="3.2"/><circle class="gp" cx="723.3" cy="417.7" r="3.2"/><circle class="gp" cx="725.7" cy="422" r="3.2"/><circle class="gp" cx="756" cy="401" r="3.2"/><circle class="gp" cx="766.7" cy="393" r="3.2"/><circle class="gp" cx="770.7" cy="391" r="3.2"/><circle class="gp" cx="771.7" cy="399.7" r="3.2"/><circle class="gp" cx="801.3" cy="413.7" r="3.2"/><circle class="gp" cx="808.3" cy="423" r="3.2"/><circle class="gp" cx="768" cy="395" r="3.2"/>
<use href="#st" class="st" x="801" y="363.7"/><use href="#st" class="st" x="794.7" y="371.3"/><use href="#st" class="st" x="787" y="378.3"/><use href="#st" class="st" x="782.3" y="382"/><use href="#st" class="st" x="775.7" y="394.3"/>
<rect class="lb" x="777.2" y="354.5" width="21" height="6.4" rx="1.2"/><text class="lt" x="787.7" y="359.3">MACSD</text>
<rect class="lb" x="763" y="369.5" width="16" height="6.4" rx="1.2"/><text class="lt" x="771" y="374.3">ECSD</text>
<rect class="lb" x="797" y="374.1" width="16" height="6.4" rx="1.2"/><text class="lt" x="805" y="378.9">VCSD</text>
<rect class="lb" x="785" y="384.1" width="13.5" height="6.4" rx="1.2"/><text class="lt" x="791.7" y="388.9">RMS</text>
<rect class="lb" x="779" y="396.8" width="16" height="6.4" rx="1.2"/><text class="lt" x="787" y="401.6">KCSD</text>
<rect x="640.5" y="344.3" width="56" height="17" rx="1.5" fill="#fff" stroke="#d8d8d8" stroke-width=".5"/>
<circle class="gp" cx="649.3" cy="349" r="3"/><use href="#st" class="st" x="649.3" y="356.7"/>
<text class="lg" x="659" y="350.7">Other features</text><text class="lg" x="659" y="358.4">Top 5 features</text>
</g>
</svg>
</body></html>
